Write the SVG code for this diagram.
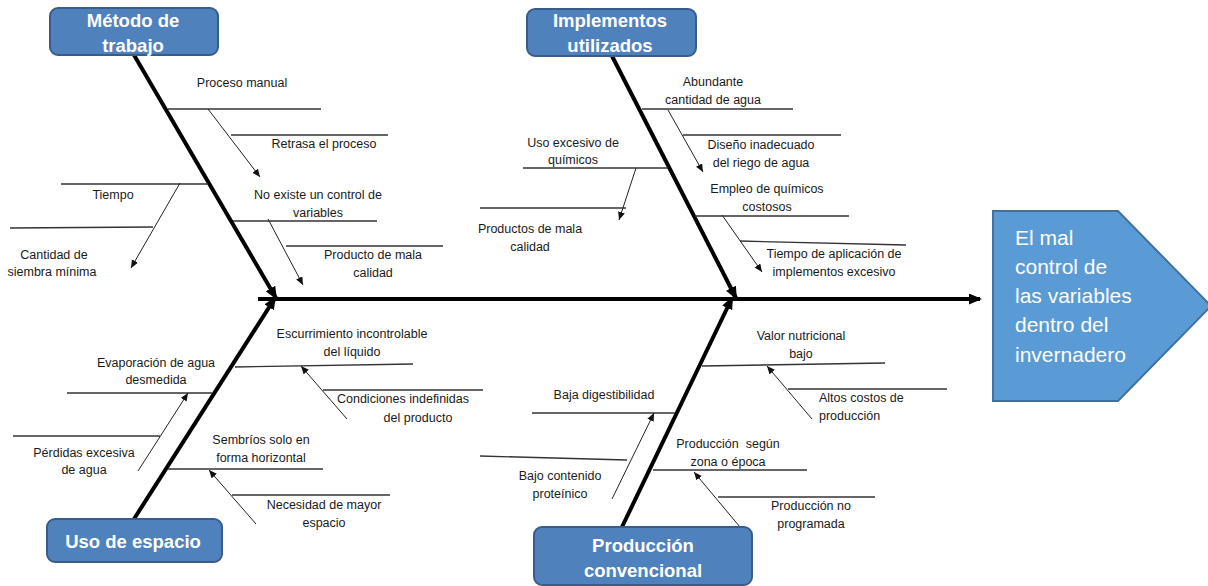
<svg xmlns="http://www.w3.org/2000/svg" width="1208" height="586" viewBox="0 0 1208 586">
<style>
.t{font-family:"Liberation Sans",Arial,sans-serif;font-size:12.5px;fill:#1a1a1a;text-anchor:middle}
.ts{font-family:"Liberation Sans",Arial,sans-serif;font-size:12.5px;fill:#1a1a1a;text-anchor:start}
.h{font-family:"Liberation Sans",Arial,sans-serif;font-size:18.5px;font-weight:bold;fill:#fff;text-anchor:middle}
.e{font-family:"Liberation Sans",Arial,sans-serif;font-size:21px;fill:#fff}
.box{fill:#4F81BD;stroke:#385D8A;stroke-width:2}
.bone{stroke:#000;stroke-width:4;fill:none}
.sub{stroke:#333;stroke-width:1.3;fill:none}
.arr{stroke:#222;stroke-width:1;fill:none;marker-end:url(#sm)}
</style>
<defs>
<marker id="big" markerUnits="userSpaceOnUse" markerWidth="14" markerHeight="12" refX="11" refY="5.5" orient="auto"><path d="M0,0 L13,5.5 L0,11 z" fill="#000"/></marker>
<marker id="sm" markerUnits="userSpaceOnUse" markerWidth="10" markerHeight="8" refX="8" refY="3.5" orient="auto"><path d="M0,0 L8,3.5 L0,7 z" fill="#111"/></marker>
</defs>
<rect width="1208" height="586" fill="#fff"/>

<g id="connectors">
<line class="bone" x1="258" y1="299" x2="980" y2="299" marker-end="url(#big)"/>
<line class="bone" x1="134" y1="55" x2="276" y2="298" marker-end="url(#big)"/>
<line class="bone" x1="612" y1="56" x2="736" y2="298" marker-end="url(#big)"/>
<line class="bone" x1="134" y1="519" x2="275" y2="298" marker-end="url(#big)"/>
<line class="bone" x1="622" y1="527" x2="732" y2="298" marker-end="url(#big)"/>

<!-- Metodo de trabajo -->
<line class="sub" x1="168" y1="109" x2="321" y2="109"/>
<line class="sub" x1="231" y1="135" x2="388" y2="135"/>
<line class="arr" x1="208" y1="109" x2="260" y2="177"/>
<line class="sub" x1="233" y1="221" x2="377" y2="221"/>
<line class="sub" x1="286" y1="246" x2="443" y2="246"/>
<line class="arr" x1="268" y1="219" x2="303" y2="285"/>
<line class="sub" x1="61" y1="184" x2="208" y2="184"/>
<line class="sub" x1="10" y1="228" x2="153" y2="227"/>
<line class="arr" x1="180" y1="183" x2="131" y2="268"/>

<!-- Implementos utilizados -->
<line class="sub" x1="642" y1="109" x2="793" y2="109"/>
<line class="sub" x1="683" y1="135" x2="841" y2="135"/>
<line class="arr" x1="668" y1="110" x2="703" y2="172"/>
<line class="sub" x1="523" y1="168" x2="668" y2="168"/>
<line class="sub" x1="480" y1="208" x2="626" y2="208"/>
<line class="arr" x1="636" y1="168" x2="619" y2="220"/>
<line class="sub" x1="695" y1="216" x2="849" y2="216"/>
<line class="sub" x1="740" y1="241" x2="906" y2="245"/>
<line class="arr" x1="722" y1="215" x2="762" y2="272"/>

<!-- Uso de espacio -->
<line class="sub" x1="235" y1="367" x2="413" y2="364"/>
<line class="sub" x1="323" y1="390" x2="483" y2="390"/>
<line class="arr" x1="347" y1="419" x2="301" y2="366"/>
<line class="sub" x1="67" y1="393" x2="212" y2="393"/>
<line class="sub" x1="13" y1="436" x2="160" y2="436"/>
<line class="arr" x1="138" y1="471" x2="188" y2="393"/>
<line class="sub" x1="168" y1="469" x2="323" y2="469"/>
<line class="sub" x1="232" y1="495" x2="390" y2="495"/>
<line class="arr" x1="256" y1="524" x2="209" y2="470"/>

<!-- Produccion convencional -->
<line class="sub" x1="702" y1="366" x2="885" y2="363"/>
<line class="sub" x1="788" y1="389" x2="947" y2="389"/>
<line class="arr" x1="812" y1="419" x2="767" y2="366"/>
<line class="sub" x1="532" y1="413" x2="675" y2="413"/>
<line class="sub" x1="480" y1="456" x2="627" y2="460"/>
<line class="arr" x1="612" y1="499" x2="654" y2="413"/>
<line class="sub" x1="653" y1="470" x2="807" y2="470"/>
<line class="sub" x1="718" y1="497" x2="875" y2="497"/>
<line class="arr" x1="740" y1="527" x2="694" y2="472"/>
</g>

<g id="node-metodo">
<rect class="box" x="50" y="8" width="168" height="47" rx="8"/>
<text class="h" x="133" y="27">Método de</text>
<text class="h" x="133" y="52">trabajo</text>
</g>
<g id="node-implementos">
<rect class="box" x="527" y="9" width="169" height="47" rx="8"/>
<text class="h" x="610" y="27">Implementos</text>
<text class="h" x="610" y="52">utilizados</text>
</g>
<g id="node-uso">
<rect class="box" x="47" y="519" width="175" height="43" rx="8"/>
<text class="h" x="133" y="548">Uso de espacio</text>
</g>
<g id="node-produccion">
<rect class="box" x="534" y="527" width="218" height="58" rx="8"/>
<text class="h" x="643" y="552">Producción</text>
<text class="h" x="643" y="577">convencional</text>
</g>
<g id="node-efecto">
<polygon points="993,211 1118,211 1211,306 1118,401 993,401" fill="#5B9BD5" stroke="#41719C" stroke-width="2"/>
<text class="e" x="1015" y="245">El mal</text>
<text class="e" x="1015" y="274">control de</text>
<text class="e" x="1015" y="303">las variables</text>
<text class="e" x="1015" y="332">dentro del</text>
<text class="e" x="1015" y="362">invernadero</text>
</g>

<g id="labels-metodo">
<text class="t" x="242" y="87">Proceso manual</text>
<text class="t" x="324" y="148">Retrasa el proceso</text>
<text class="t" x="318" y="199">No existe un control de</text>
<text class="t" x="318" y="217">variables</text>
<text class="t" x="373" y="259">Producto de mala</text>
<text class="t" x="373" y="277">calidad</text>
<text class="t" x="113" y="199">Tiempo</text>
<text class="t" x="54" y="259">Cantidad de</text>
<text class="t" x="52" y="276">siembra mínima</text>
</g>
<g id="labels-implementos">
<text class="t" x="713" y="86">Abundante</text>
<text class="t" x="713" y="104">cantidad de agua</text>
<text class="t" x="761" y="149">Diseño inadecuado</text>
<text class="t" x="761" y="167">del riego de agua</text>
<text class="t" x="573" y="147">Uso excesivo de</text>
<text class="t" x="573" y="164">químicos</text>
<text class="t" x="530" y="233">Productos de mala</text>
<text class="t" x="530" y="251">calidad</text>
<text class="t" x="767" y="193">Empleo de químicos</text>
<text class="t" x="767" y="211">costosos</text>
<text class="t" x="834" y="258">Tiempo de aplicación de</text>
<text class="t" x="834" y="276">implementos excesivo</text>
</g>
<g id="labels-uso">
<text class="t" x="352" y="338">Escurrimiento incontrolable</text>
<text class="t" x="352" y="356">del líquido</text>
<text class="t" x="403" y="403">Condiciones indefinidas</text>
<text class="t" x="418" y="422">del producto</text>
<text class="t" x="156" y="367">Evaporación de agua</text>
<text class="t" x="156" y="384">desmedida</text>
<text class="t" x="84" y="457">Pérdidas excesiva</text>
<text class="t" x="84" y="474">de agua</text>
<text class="t" x="261" y="444">Sembríos solo en</text>
<text class="t" x="261" y="462">forma horizontal</text>
<text class="t" x="324" y="509">Necesidad de mayor</text>
<text class="t" x="324" y="527">espacio</text>
</g>
<g id="labels-produccion">
<text class="t" x="801" y="340">Valor nutricional</text>
<text class="t" x="801" y="358">bajo</text>
<text class="ts" x="819" y="402">Altos costos de</text>
<text class="ts" x="819" y="420">producción</text>
<text class="t" x="604" y="399">Baja digestibilidad</text>
<text class="t" x="560" y="480">Bajo contenido</text>
<text class="t" x="560" y="498">proteínico</text>
<text class="t" x="728" y="448">Producción&#160; según</text>
<text class="t" x="728" y="466">zona o época</text>
<text class="t" x="811" y="510">Producción no</text>
<text class="t" x="811" y="528">programada</text>
</g>
</svg>
